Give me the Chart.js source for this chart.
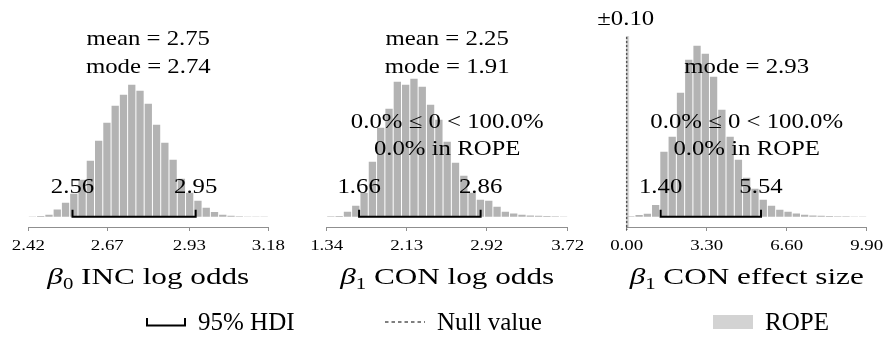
<!DOCTYPE html>
<html>
<head>
<meta charset="utf-8">
<script src="https://cdn.jsdelivr.net/npm/chart.js@4.4.1/dist/chart.umd.min.js"></script>
<style>
  html, body { margin: 0; padding: 0; background: #fff; }
  #wrap { position: relative; width: 885px; height: 345px; overflow: hidden; }
  #wrap canvas { position: absolute; left: 0; top: 0; }
  .key { position: absolute; top: 308px; height: 28px; display: flex; align-items: center;
         font-family: "Liberation Serif", serif; font-size: 25px; color: #000; white-space: nowrap; }
  .key svg { margin-right: 12px; }
</style>
</head>
<body>
<div id="wrap">
  <canvas id="incChart" width="885" height="345"></canvas>
  <canvas id="conChart" width="885" height="345"></canvas>
  <canvas id="esChart" width="885" height="345"></canvas>

  <div class="key" style="left:146px">
    <svg width="40" height="10"><path d="M1 1 V8.5 H39 V1" fill="none" stroke="#000" stroke-width="2"/></svg>95% HDI
  </div>
  <div class="key" style="left:385px">
    <svg width="40" height="10"><line x1="0" y1="5" x2="40" y2="5" stroke="#555" stroke-width="1.5" stroke-dasharray="3.5 3"/></svg>Null value
  </div>
  <div class="key" style="left:713px">
    <svg width="40" height="14"><rect x="0" y="0" width="40" height="14" fill="#d3d3d3"/></svg>ROPE
  </div>
</div>

<script>
// posterior histograms, 29 bins each, heights as read
const incCounts = [0.3, 0.7, 2, 7.3, 14, 23, 37, 56, 76, 94, 111, 122, 132, 126, 113, 92, 74, 57, 38, 24, 16, 9, 4.7, 2, 1, 0.5, 0.3, 0.2, 0.1];
const conCounts = [0.5, 0.7, 5, 11, 24, 55, 89, 108, 135, 132, 138, 130, 112, 97, 75, 54, 41, 24, 17, 16, 10, 5, 3.3, 2, 1.3, 1, 0.7, 0.5, 0.3];
const esCounts = [0.5, 1.7, 3, 11.7, 65, 80, 124, 157, 171, 163, 140, 107, 80, 57, 39, 28, 17, 11, 7, 5, 3.3, 2, 1.3, 1, 0.7, 0.5, 0.4, 0.3, 0.2];

// axis ranges and tick values
const incRange = [2.42, 3.18];
const conRange = [1.34, 3.72];
const esRange = [0.00, 9.90];
const incTicks = [2.42, 2.67, 2.93, 3.18];
const conTicks = [1.34, 2.13, 2.92, 3.72];
const esTicks = [0.00, 3.30, 6.60, 9.90];

// summaries
const incHdi = [2.56, 2.95];
const conHdi = [1.66, 2.86];
const esHdi = [1.40, 5.54];
const incMean = 2.75, incMode = 2.74;
const conMean = 2.25, conMode = 1.91;
const esMode = 2.93;
const conBelow = 0.0, conAbove = 100.0, conInRope = 0.0;
const esBelow = 0.0, esAbove = 100.0, esInRope = 0.0;
const nullValue = 0;
const ropeHalf = 0.10;

const BAR_GREY = '#b3b3b3';
const AXIS_GREY = '#8f8f8f';
const MATH_FONT = '21px "Liberation Serif"';

function binCenters(range, n) {
    const w = (range[1] - range[0]) / n;
    const out = [];
    for (let i = 0; i < n; i++) out.push(range[0] + (i + 0.5) * w);
    return out;
}

// text squeezed/stretched along x only
function drawText(ctx, str, x, y, font, sx) {
    ctx.save();
    ctx.font = font;
    ctx.fillStyle = '#000';
    ctx.textAlign = 'center';
    ctx.textBaseline = 'alphabetic';
    ctx.translate(x, y);
    ctx.scale(sx, 1);
    ctx.fillText(str, 0, 0);
    ctx.restore();
}

// "β₀ INC log odds" style title: italic beta, subscript, rest
function drawTitle(ctx, sub, rest, cx, y) {
    const parts = [
        { t: 'β', font: 'italic 24px "Liberation Serif"', dy: 0 },
        { t: sub, font: '16px "Liberation Serif"', dy: 5 },
        { t: rest, font: '24px "Liberation Serif"', dy: 0 }
    ];
    const sx = 1.3;
    let total = 0;
    parts.forEach(p => { ctx.font = p.font; p.w = ctx.measureText(p.t).width; total += p.w; });
    ctx.save();
    ctx.translate(cx - total * sx / 2, y);
    ctx.scale(sx, 1);
    ctx.fillStyle = '#000';
    ctx.textAlign = 'left';
    let x = 0;
    parts.forEach(p => {
        ctx.font = p.font;
        ctx.fillText(p.t, x, p.dy);
        x += p.w;
    });
    ctx.restore();
}

const panelText = {
    id: 'panelText',
    beforeDatasetsDraw(chart, args, opts) {
        if (!opts.rope) return;
        const xs = chart.scales.x, area = chart.chartArea;
        const x0 = xs.getPixelForValue(Math.max(opts.rope[0], xs.min));
        const x1 = xs.getPixelForValue(opts.rope[1]);
        const ctx = chart.ctx;
        ctx.save();
        ctx.fillStyle = '#d9d9d9';
        ctx.fillRect(x0, area.top + 6, x1 - x0, area.bottom - area.top - 6);
        ctx.restore();
    },
    afterDraw(chart, args, opts) {
        const ctx = chart.ctx;
        const xs = chart.scales.x, area = chart.chartArea;
        const cx = (area.left + area.right) / 2;

        xs.ticks.forEach(t => {
            drawText(ctx, t.value.toFixed(2), xs.getPixelForValue(t.value), 250, '14px "Liberation Serif"', 1.35);
        });
        drawTitle(ctx, opts.sub, opts.rest, cx, 284);

        opts.lines.forEach(l => drawText(ctx, l.text, cx, l.y, MATH_FONT, 1.18));
        opts.hdi.forEach(v => drawText(ctx, v.toFixed(2), xs.getPixelForValue(v), 192.7, MATH_FONT, 1.18));

        if (opts.ropeLabel) {
            drawText(ctx, opts.ropeLabel, xs.getPixelForValue(nullValue) - 1, 25, MATH_FONT, 1.18);
        }
    }
};

function makePanel(id, range, ticks, counts, hdi, left, right, text, extra) {
    const centers = binCenters(range, counts.length);
    const datasets = [
        {
            type: 'bar',
            data: centers.map((c, i) => ({ x: c, y: counts[i] })),
            backgroundColor: BAR_GREY,
            barPercentage: 0.88,
            categoryPercentage: 1,
            order: 3
        },
        {
            // HDI bracket
            type: 'line',
            data: [{ x: hdi[0], y: 7 }, { x: hdi[0], y: 0 }, { x: hdi[1], y: 0 }, { x: hdi[1], y: 7 }],
            borderColor: '#000',
            borderWidth: 2,
            pointRadius: 0,
            tension: 0,
            fill: false,
            borderJoinStyle: 'miter',
            order: 1
        }
    ].concat(extra || []);

    return new Chart(document.getElementById(id), {
        type: 'bar',
        data: { datasets },
        plugins: [panelText],
        options: {
            responsive: false,
            animation: false,
            layout: { padding: { left: left, right: 885 - right, top: 30, bottom: 114 } },
            plugins: {
                legend: { display: false },
                tooltip: { enabled: false },
                panelText: text
            },
            scales: {
                x: {
                    type: 'linear',
                    min: range[0],
                    max: range[1],
                    offset: false,
                    afterBuildTicks: axis => { axis.ticks = ticks.map(v => ({ value: v })); },
                    grid: { drawOnChartArea: false, drawTicks: true, tickLength: 4, color: AXIS_GREY, offset: false },
                    border: { color: AXIS_GREY, width: 1 },
                    ticks: { display: false }
                },
                y: { display: false, min: -10.3, max: 186.7 }
            }
        }
    });
}

makePanel('incChart', incRange, incTicks, incCounts, incHdi, 28.3, 268.3, {
    sub: '0', rest: ' INC log odds',
    lines: [
        { text: `mean = ${incMean.toFixed(2)}`, y: 45 },
        { text: `mode = ${incMode.toFixed(2)}`, y: 72.5 }
    ],
    hdi: incHdi
});

makePanel('conChart', conRange, conTicks, conCounts, conHdi, 326.7, 567.7, {
    sub: '1', rest: ' CON log odds',
    lines: [
        { text: `mean = ${conMean.toFixed(2)}`, y: 45 },
        { text: `mode = ${conMode.toFixed(2)}`, y: 72.5 },
        { text: `${conBelow.toFixed(1)}% ≤ 0 < ${conAbove.toFixed(1)}%`, y: 127.5 },
        { text: `${conInRope.toFixed(1)}% in ROPE`, y: 155 }
    ],
    hdi: conHdi
});

makePanel('esChart', esRange, esTicks, esCounts, esHdi, 626.7, 866.7, {
    sub: '1', rest: ' CON effect size',
    lines: [
        { text: `mode = ${esMode.toFixed(2)}`, y: 72.5 },
        { text: `${esBelow.toFixed(1)}% ≤ 0 < ${esAbove.toFixed(1)}%`, y: 127.5 },
        { text: `${esInRope.toFixed(1)}% in ROPE`, y: 155 }
    ],
    hdi: esHdi,
    rope: [nullValue - ropeHalf, nullValue + ropeHalf],
    ropeLabel: `±${ropeHalf.toFixed(2)}`
}, [{
    // null value marker
    type: 'line',
    data: [{ x: nullValue, y: 180 }, { x: nullValue, y: -13.3 }],
    borderColor: '#555',
    borderWidth: 1.5,
    borderDash: [2.5, 1.5],
    pointRadius: 0,
    fill: false,
    clip: false,
    order: 2
}]);
</script>
</body>
</html>
